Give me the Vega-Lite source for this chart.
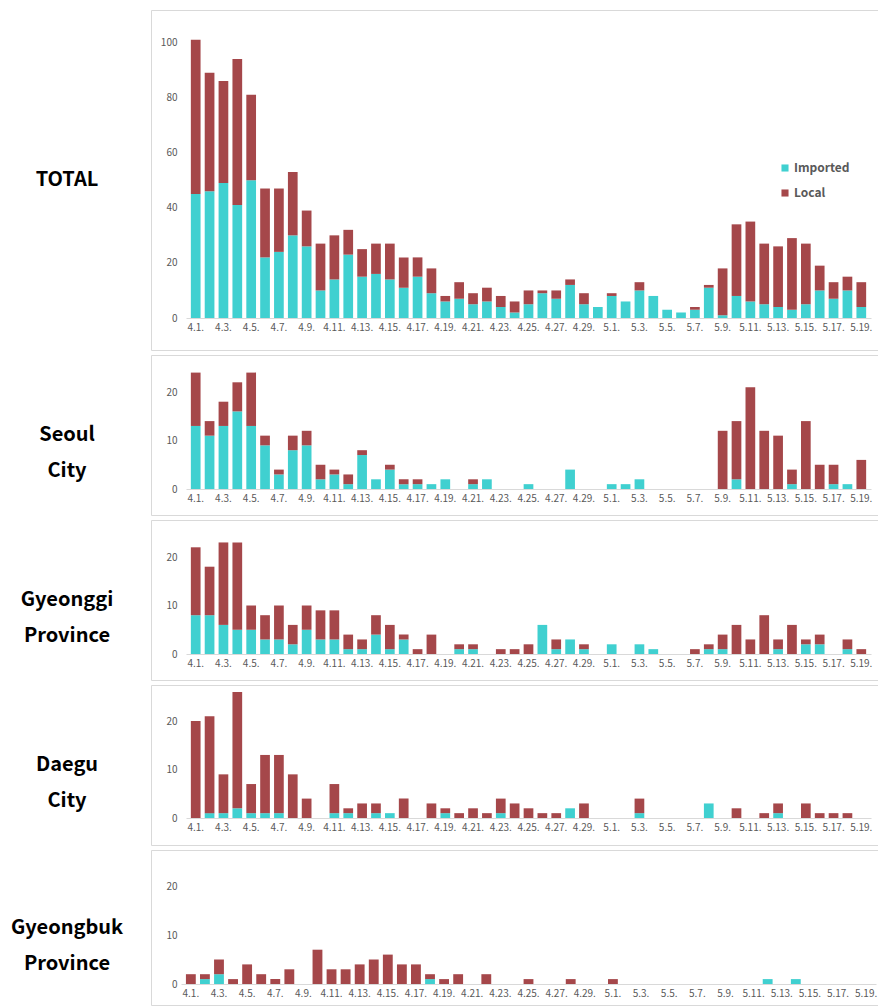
{
  "$schema": "https://vega.github.io/schema/vega-lite/v6.json",
  "description": "Daily new COVID-19 cases, imported vs local, 4.1.-5.19., total and four regions.",
  "padding": {"left": 0, "top": 9, "right": 0, "bottom": 0},
  "spacing": 3,
  "datasets": {
    "total": [
      {"d": "4.1.", "Imported": 45, "Local": 56}, {"d": "4.2.", "Imported": 46, "Local": 43},
      {"d": "4.3.", "Imported": 49, "Local": 37}, {"d": "4.4.", "Imported": 41, "Local": 53},
      {"d": "4.5.", "Imported": 50, "Local": 31}, {"d": "4.6.", "Imported": 22, "Local": 25},
      {"d": "4.7.", "Imported": 24, "Local": 23}, {"d": "4.8.", "Imported": 30, "Local": 23},
      {"d": "4.9.", "Imported": 26, "Local": 13}, {"d": "4.10.", "Imported": 10, "Local": 17},
      {"d": "4.11.", "Imported": 14, "Local": 16}, {"d": "4.12.", "Imported": 23, "Local": 9},
      {"d": "4.13.", "Imported": 15, "Local": 10}, {"d": "4.14.", "Imported": 16, "Local": 11},
      {"d": "4.15.", "Imported": 14, "Local": 13}, {"d": "4.16.", "Imported": 11, "Local": 11},
      {"d": "4.17.", "Imported": 15, "Local": 7}, {"d": "4.18.", "Imported": 9, "Local": 9},
      {"d": "4.19.", "Imported": 6, "Local": 2}, {"d": "4.20.", "Imported": 7, "Local": 6},
      {"d": "4.21.", "Imported": 5, "Local": 4}, {"d": "4.22.", "Imported": 6, "Local": 5},
      {"d": "4.23.", "Imported": 4, "Local": 4}, {"d": "4.24.", "Imported": 2, "Local": 4},
      {"d": "4.25.", "Imported": 5, "Local": 5}, {"d": "4.26.", "Imported": 9, "Local": 1},
      {"d": "4.27.", "Imported": 7, "Local": 3}, {"d": "4.28.", "Imported": 12, "Local": 2},
      {"d": "4.29.", "Imported": 5, "Local": 4}, {"d": "4.30.", "Imported": 4, "Local": 0},
      {"d": "5.1.", "Imported": 8, "Local": 1}, {"d": "5.2.", "Imported": 6, "Local": 0},
      {"d": "5.3.", "Imported": 10, "Local": 3}, {"d": "5.4.", "Imported": 8, "Local": 0},
      {"d": "5.5.", "Imported": 3, "Local": 0}, {"d": "5.6.", "Imported": 2, "Local": 0},
      {"d": "5.7.", "Imported": 3, "Local": 1}, {"d": "5.8.", "Imported": 11, "Local": 1},
      {"d": "5.9.", "Imported": 1, "Local": 17}, {"d": "5.10.", "Imported": 8, "Local": 26},
      {"d": "5.11.", "Imported": 6, "Local": 29}, {"d": "5.12.", "Imported": 5, "Local": 22},
      {"d": "5.13.", "Imported": 4, "Local": 22}, {"d": "5.14.", "Imported": 3, "Local": 26},
      {"d": "5.15.", "Imported": 5, "Local": 22}, {"d": "5.16.", "Imported": 10, "Local": 9},
      {"d": "5.17.", "Imported": 7, "Local": 6}, {"d": "5.18.", "Imported": 10, "Local": 5},
      {"d": "5.19.", "Imported": 4, "Local": 9}
    ],
    "seoul": [
      {"d": "4.1.", "Imported": 13, "Local": 11}, {"d": "4.2.", "Imported": 11, "Local": 3},
      {"d": "4.3.", "Imported": 13, "Local": 5}, {"d": "4.4.", "Imported": 16, "Local": 6},
      {"d": "4.5.", "Imported": 13, "Local": 11}, {"d": "4.6.", "Imported": 9, "Local": 2},
      {"d": "4.7.", "Imported": 3, "Local": 1}, {"d": "4.8.", "Imported": 8, "Local": 3},
      {"d": "4.9.", "Imported": 9, "Local": 3}, {"d": "4.10.", "Imported": 2, "Local": 3},
      {"d": "4.11.", "Imported": 3, "Local": 1}, {"d": "4.12.", "Imported": 1, "Local": 2},
      {"d": "4.13.", "Imported": 7, "Local": 1}, {"d": "4.14.", "Imported": 2, "Local": 0},
      {"d": "4.15.", "Imported": 4, "Local": 1}, {"d": "4.16.", "Imported": 1, "Local": 1},
      {"d": "4.17.", "Imported": 1, "Local": 1}, {"d": "4.18.", "Imported": 1, "Local": 0},
      {"d": "4.19.", "Imported": 2, "Local": 0}, {"d": "4.20.", "Imported": 0, "Local": 0},
      {"d": "4.21.", "Imported": 1, "Local": 1}, {"d": "4.22.", "Imported": 2, "Local": 0},
      {"d": "4.23.", "Imported": 0, "Local": 0}, {"d": "4.24.", "Imported": 0, "Local": 0},
      {"d": "4.25.", "Imported": 1, "Local": 0}, {"d": "4.26.", "Imported": 0, "Local": 0},
      {"d": "4.27.", "Imported": 0, "Local": 0}, {"d": "4.28.", "Imported": 4, "Local": 0},
      {"d": "4.29.", "Imported": 0, "Local": 0}, {"d": "4.30.", "Imported": 0, "Local": 0},
      {"d": "5.1.", "Imported": 1, "Local": 0}, {"d": "5.2.", "Imported": 1, "Local": 0},
      {"d": "5.3.", "Imported": 2, "Local": 0}, {"d": "5.4.", "Imported": 0, "Local": 0},
      {"d": "5.5.", "Imported": 0, "Local": 0}, {"d": "5.6.", "Imported": 0, "Local": 0},
      {"d": "5.7.", "Imported": 0, "Local": 0}, {"d": "5.8.", "Imported": 0, "Local": 0},
      {"d": "5.9.", "Imported": 0, "Local": 12}, {"d": "5.10.", "Imported": 2, "Local": 12},
      {"d": "5.11.", "Imported": 0, "Local": 21}, {"d": "5.12.", "Imported": 0, "Local": 12},
      {"d": "5.13.", "Imported": 0, "Local": 11}, {"d": "5.14.", "Imported": 1, "Local": 3},
      {"d": "5.15.", "Imported": 0, "Local": 14}, {"d": "5.16.", "Imported": 0, "Local": 5},
      {"d": "5.17.", "Imported": 1, "Local": 4}, {"d": "5.18.", "Imported": 1, "Local": 0},
      {"d": "5.19.", "Imported": 0, "Local": 6}
    ],
    "gyeonggi": [
      {"d": "4.1.", "Imported": 8, "Local": 14}, {"d": "4.2.", "Imported": 8, "Local": 10},
      {"d": "4.3.", "Imported": 6, "Local": 17}, {"d": "4.4.", "Imported": 5, "Local": 18},
      {"d": "4.5.", "Imported": 5, "Local": 5}, {"d": "4.6.", "Imported": 3, "Local": 5},
      {"d": "4.7.", "Imported": 3, "Local": 7}, {"d": "4.8.", "Imported": 2, "Local": 4},
      {"d": "4.9.", "Imported": 5, "Local": 5}, {"d": "4.10.", "Imported": 3, "Local": 6},
      {"d": "4.11.", "Imported": 3, "Local": 6}, {"d": "4.12.", "Imported": 1, "Local": 3},
      {"d": "4.13.", "Imported": 1, "Local": 2}, {"d": "4.14.", "Imported": 4, "Local": 4},
      {"d": "4.15.", "Imported": 1, "Local": 5}, {"d": "4.16.", "Imported": 3, "Local": 1},
      {"d": "4.17.", "Imported": 0, "Local": 1}, {"d": "4.18.", "Imported": 0, "Local": 4},
      {"d": "4.19.", "Imported": 0, "Local": 0}, {"d": "4.20.", "Imported": 1, "Local": 1},
      {"d": "4.21.", "Imported": 1, "Local": 1}, {"d": "4.22.", "Imported": 0, "Local": 0},
      {"d": "4.23.", "Imported": 0, "Local": 1}, {"d": "4.24.", "Imported": 0, "Local": 1},
      {"d": "4.25.", "Imported": 0, "Local": 2}, {"d": "4.26.", "Imported": 6, "Local": 0},
      {"d": "4.27.", "Imported": 1, "Local": 2}, {"d": "4.28.", "Imported": 3, "Local": 0},
      {"d": "4.29.", "Imported": 1, "Local": 1}, {"d": "4.30.", "Imported": 0, "Local": 0},
      {"d": "5.1.", "Imported": 2, "Local": 0}, {"d": "5.2.", "Imported": 0, "Local": 0},
      {"d": "5.3.", "Imported": 2, "Local": 0}, {"d": "5.4.", "Imported": 1, "Local": 0},
      {"d": "5.5.", "Imported": 0, "Local": 0}, {"d": "5.6.", "Imported": 0, "Local": 0},
      {"d": "5.7.", "Imported": 0, "Local": 1}, {"d": "5.8.", "Imported": 1, "Local": 1},
      {"d": "5.9.", "Imported": 1, "Local": 3}, {"d": "5.10.", "Imported": 0, "Local": 6},
      {"d": "5.11.", "Imported": 0, "Local": 3}, {"d": "5.12.", "Imported": 0, "Local": 8},
      {"d": "5.13.", "Imported": 1, "Local": 2}, {"d": "5.14.", "Imported": 0, "Local": 6},
      {"d": "5.15.", "Imported": 2, "Local": 1}, {"d": "5.16.", "Imported": 2, "Local": 2},
      {"d": "5.17.", "Imported": 0, "Local": 0}, {"d": "5.18.", "Imported": 1, "Local": 2},
      {"d": "5.19.", "Imported": 0, "Local": 1}
    ],
    "daegu": [
      {"d": "4.1.", "Imported": 0, "Local": 20}, {"d": "4.2.", "Imported": 1, "Local": 20},
      {"d": "4.3.", "Imported": 1, "Local": 8}, {"d": "4.4.", "Imported": 2, "Local": 24},
      {"d": "4.5.", "Imported": 1, "Local": 6}, {"d": "4.6.", "Imported": 1, "Local": 12},
      {"d": "4.7.", "Imported": 1, "Local": 12}, {"d": "4.8.", "Imported": 0, "Local": 9},
      {"d": "4.9.", "Imported": 0, "Local": 4}, {"d": "4.10.", "Imported": 0, "Local": 0},
      {"d": "4.11.", "Imported": 1, "Local": 6}, {"d": "4.12.", "Imported": 1, "Local": 1},
      {"d": "4.13.", "Imported": 0, "Local": 3}, {"d": "4.14.", "Imported": 1, "Local": 2},
      {"d": "4.15.", "Imported": 1, "Local": 0}, {"d": "4.16.", "Imported": 0, "Local": 4},
      {"d": "4.17.", "Imported": 0, "Local": 0}, {"d": "4.18.", "Imported": 0, "Local": 3},
      {"d": "4.19.", "Imported": 1, "Local": 1}, {"d": "4.20.", "Imported": 0, "Local": 1},
      {"d": "4.21.", "Imported": 0, "Local": 2}, {"d": "4.22.", "Imported": 0, "Local": 1},
      {"d": "4.23.", "Imported": 1, "Local": 3}, {"d": "4.24.", "Imported": 0, "Local": 3},
      {"d": "4.25.", "Imported": 0, "Local": 2}, {"d": "4.26.", "Imported": 0, "Local": 1},
      {"d": "4.27.", "Imported": 0, "Local": 1}, {"d": "4.28.", "Imported": 2, "Local": 0},
      {"d": "4.29.", "Imported": 0, "Local": 3}, {"d": "4.30.", "Imported": 0, "Local": 0},
      {"d": "5.1.", "Imported": 0, "Local": 0}, {"d": "5.2.", "Imported": 0, "Local": 0},
      {"d": "5.3.", "Imported": 1, "Local": 3}, {"d": "5.4.", "Imported": 0, "Local": 0},
      {"d": "5.5.", "Imported": 0, "Local": 0}, {"d": "5.6.", "Imported": 0, "Local": 0},
      {"d": "5.7.", "Imported": 0, "Local": 0}, {"d": "5.8.", "Imported": 3, "Local": 0},
      {"d": "5.9.", "Imported": 0, "Local": 0}, {"d": "5.10.", "Imported": 0, "Local": 2},
      {"d": "5.11.", "Imported": 0, "Local": 0}, {"d": "5.12.", "Imported": 0, "Local": 1},
      {"d": "5.13.", "Imported": 1, "Local": 2}, {"d": "5.14.", "Imported": 0, "Local": 0},
      {"d": "5.15.", "Imported": 0, "Local": 3}, {"d": "5.16.", "Imported": 0, "Local": 1},
      {"d": "5.17.", "Imported": 0, "Local": 1}, {"d": "5.18.", "Imported": 0, "Local": 1},
      {"d": "5.19.", "Imported": 0, "Local": 0}
    ],
    "gyeongbuk": [
      {"d": "4.1.", "Imported": 0, "Local": 2}, {"d": "4.2.", "Imported": 1, "Local": 1},
      {"d": "4.3.", "Imported": 2, "Local": 3}, {"d": "4.4.", "Imported": 0, "Local": 1},
      {"d": "4.5.", "Imported": 0, "Local": 4}, {"d": "4.6.", "Imported": 0, "Local": 2},
      {"d": "4.7.", "Imported": 0, "Local": 1}, {"d": "4.8.", "Imported": 0, "Local": 3},
      {"d": "4.9.", "Imported": 0, "Local": 0}, {"d": "4.10.", "Imported": 0, "Local": 7},
      {"d": "4.11.", "Imported": 0, "Local": 3}, {"d": "4.12.", "Imported": 0, "Local": 3},
      {"d": "4.13.", "Imported": 0, "Local": 4}, {"d": "4.14.", "Imported": 0, "Local": 5},
      {"d": "4.15.", "Imported": 0, "Local": 6}, {"d": "4.16.", "Imported": 0, "Local": 4},
      {"d": "4.17.", "Imported": 0, "Local": 4}, {"d": "4.18.", "Imported": 1, "Local": 1},
      {"d": "4.19.", "Imported": 0, "Local": 1}, {"d": "4.20.", "Imported": 0, "Local": 2},
      {"d": "4.21.", "Imported": 0, "Local": 0}, {"d": "4.22.", "Imported": 0, "Local": 2},
      {"d": "4.23.", "Imported": 0, "Local": 0}, {"d": "4.24.", "Imported": 0, "Local": 0},
      {"d": "4.25.", "Imported": 0, "Local": 1}, {"d": "4.26.", "Imported": 0, "Local": 0},
      {"d": "4.27.", "Imported": 0, "Local": 0}, {"d": "4.28.", "Imported": 0, "Local": 1},
      {"d": "4.29.", "Imported": 0, "Local": 0}, {"d": "4.30.", "Imported": 0, "Local": 0},
      {"d": "5.1.", "Imported": 0, "Local": 1}, {"d": "5.2.", "Imported": 0, "Local": 0},
      {"d": "5.3.", "Imported": 0, "Local": 0}, {"d": "5.4.", "Imported": 0, "Local": 0},
      {"d": "5.5.", "Imported": 0, "Local": 0}, {"d": "5.6.", "Imported": 0, "Local": 0},
      {"d": "5.7.", "Imported": 0, "Local": 0}, {"d": "5.8.", "Imported": 0, "Local": 0},
      {"d": "5.9.", "Imported": 0, "Local": 0}, {"d": "5.10.", "Imported": 0, "Local": 0},
      {"d": "5.11.", "Imported": 0, "Local": 0}, {"d": "5.12.", "Imported": 1, "Local": 0},
      {"d": "5.13.", "Imported": 0, "Local": 0}, {"d": "5.14.", "Imported": 1, "Local": 0},
      {"d": "5.15.", "Imported": 0, "Local": 0}, {"d": "5.16.", "Imported": 0, "Local": 0},
      {"d": "5.17.", "Imported": 0, "Local": 0}, {"d": "5.18.", "Imported": 0, "Local": 0},
      {"d": "5.19.", "Imported": 0, "Local": 0}
    ]
  },
  "config": {
    "view": {"stroke": "#D9D9D9", "strokeWidth": 1},
    "axis": {
      "labelFont": "Noto Sans CJK KR",
      "labelFontSize": 10,
      "labelColor": "#595959",
      "ticks": false,
      "grid": false
    },
    "axisX": {"domainColor": "#D9D9D9", "labelAngle": 0, "labelPadding": 4, "labelOverlap": false},
    "axisY": {"domain": false, "labelPadding": 9},
    "text": {"font": "Noto Sans CJK KR", "fontSize": 20, "fontWeight": "bold", "color": "#000000", "lineBreak": "\n", "lineHeight": 36},
    "bar": {"stroke": null}
  },
  "vconcat": [
    {
      "spacing": 16,
      "hconcat": [
        {
          "width": 134, "height": 340, "view": {"stroke": null},
          "data": {"values": [{"t": "TOTAL"}]},
          "mark": "text",
          "encoding": {"text": {"field": "t"}}
        },
        {
          "width": 728, "height": 340,
          "data": {"name": "total"},
          "transform": [{"fold": ["Imported", "Local"], "as": ["type", "n"]}],
          "mark": "bar",
          "encoding": {
            "x": {
              "field": "d", "type": "ordinal", "sort": null, "title": null,
              "scale": {"range": [35, 720], "paddingInner": 0.3, "paddingOuter": 0.35},
              "axis": {"offset": -32, "values": ["4.1.", "4.3.", "4.5.", "4.7.", "4.9.", "4.11.", "4.13.", "4.15.", "4.17.", "4.19.", "4.21.", "4.23.", "4.25.", "4.27.", "4.29.", "5.1.", "5.3.", "5.5.", "5.7.", "5.9.", "5.11.", "5.13.", "5.15.", "5.17.", "5.19."]}
            },
            "y": {
              "field": "n", "type": "quantitative", "stack": "zero", "title": null,
              "scale": {"domain": [0, 100], "range": [308, 32.5], "nice": false},
              "axis": {"offset": -35, "values": [0, 20, 40, 60, 80, 100]}
            },
            "color": {
              "field": "type", "type": "nominal", "title": null,
              "scale": {"domain": ["Imported", "Local"], "range": ["#40D0D0", "#A5474A"]},
              "legend": {
                "orient": "none", "legendX": 779, "legendY": 152, "direction": "vertical",
                "symbolType": "square", "symbolSize": 50, "symbolStrokeWidth": 0,
                "labelFont": "Noto Sans CJK KR", "labelFontSize": 12, "labelFontWeight": "bold",
                "labelColor": "#595959", "rowPadding": 13, "labelOffset": 3
              }
            },
            "order": {"field": "type", "sort": "ascending"}
          }
        }
      ]
    },
    {
      "spacing": 16,
      "hconcat": [
        {
          "width": 134, "height": 160, "view": {"stroke": null},
          "data": {"values": [{"t": "Seoul\nCity"}]},
          "mark": "text",
          "encoding": {"text": {"field": "t"}}
        },
        {
          "width": 728, "height": 160,
          "data": {"name": "seoul"},
          "transform": [{"fold": ["Imported", "Local"], "as": ["type", "n"]}],
          "mark": "bar",
          "encoding": {
            "x": {
              "field": "d", "type": "ordinal", "sort": null, "title": null,
              "scale": {"range": [35, 720], "paddingInner": 0.3, "paddingOuter": 0.35},
              "axis": {"offset": -26, "values": ["4.1.", "4.3.", "4.5.", "4.7.", "4.9.", "4.11.", "4.13.", "4.15.", "4.17.", "4.19.", "4.21.", "4.23.", "4.25.", "4.27.", "4.29.", "5.1.", "5.3.", "5.5.", "5.7.", "5.9.", "5.11.", "5.13.", "5.15.", "5.17.", "5.19."]}
            },
            "y": {
              "field": "n", "type": "quantitative", "stack": "zero", "title": null,
              "scale": {"domain": [0, 20], "range": [134, 37], "nice": false},
              "axis": {"offset": -35, "values": [0, 10, 20]}
            },
            "color": {"field": "type", "type": "nominal", "legend": null},
            "order": {"field": "type", "sort": "ascending"}
          }
        }
      ]
    },
    {
      "spacing": 16,
      "hconcat": [
        {
          "width": 134, "height": 160, "view": {"stroke": null},
          "data": {"values": [{"t": "Gyeonggi\nProvince"}]},
          "mark": "text",
          "encoding": {"text": {"field": "t"}}
        },
        {
          "width": 728, "height": 160,
          "data": {"name": "gyeonggi"},
          "transform": [{"fold": ["Imported", "Local"], "as": ["type", "n"]}],
          "mark": "bar",
          "encoding": {
            "x": {
              "field": "d", "type": "ordinal", "sort": null, "title": null,
              "scale": {"range": [35, 720], "paddingInner": 0.3, "paddingOuter": 0.35},
              "axis": {"offset": -26, "values": ["4.1.", "4.3.", "4.5.", "4.7.", "4.9.", "4.11.", "4.13.", "4.15.", "4.17.", "4.19.", "4.21.", "4.23.", "4.25.", "4.27.", "4.29.", "5.1.", "5.3.", "5.5.", "5.7.", "5.9.", "5.11.", "5.13.", "5.15.", "5.17.", "5.19."]}
            },
            "y": {
              "field": "n", "type": "quantitative", "stack": "zero", "title": null,
              "scale": {"domain": [0, 20], "range": [134, 37], "nice": false},
              "axis": {"offset": -35, "values": [0, 10, 20]}
            },
            "color": {"field": "type", "type": "nominal", "legend": null},
            "order": {"field": "type", "sort": "ascending"}
          }
        }
      ]
    },
    {
      "spacing": 16,
      "hconcat": [
        {
          "width": 134, "height": 160, "view": {"stroke": null},
          "data": {"values": [{"t": "Daegu\nCity"}]},
          "mark": "text",
          "encoding": {"text": {"field": "t"}}
        },
        {
          "width": 728, "height": 160,
          "data": {"name": "daegu"},
          "transform": [{"fold": ["Imported", "Local"], "as": ["type", "n"]}],
          "mark": "bar",
          "encoding": {
            "x": {
              "field": "d", "type": "ordinal", "sort": null, "title": null,
              "scale": {"range": [35, 720], "paddingInner": 0.3, "paddingOuter": 0.35},
              "axis": {"offset": -27, "values": ["4.1.", "4.3.", "4.5.", "4.7.", "4.9.", "4.11.", "4.13.", "4.15.", "4.17.", "4.19.", "4.21.", "4.23.", "4.25.", "4.27.", "4.29.", "5.1.", "5.3.", "5.5.", "5.7.", "5.9.", "5.11.", "5.13.", "5.15.", "5.17.", "5.19."]}
            },
            "y": {
              "field": "n", "type": "quantitative", "stack": "zero", "title": null,
              "scale": {"domain": [0, 20], "range": [133, 36], "nice": false},
              "axis": {"offset": -35, "values": [0, 10, 20]}
            },
            "color": {"field": "type", "type": "nominal", "legend": null},
            "order": {"field": "type", "sort": "ascending"}
          }
        }
      ]
    },
    {
      "spacing": 16,
      "hconcat": [
        {
          "width": 134, "height": 155, "view": {"stroke": null},
          "data": {"values": [{"t": "Gyeongbuk\nProvince"}]},
          "mark": "text",
          "encoding": {"text": {"field": "t"}}
        },
        {
          "width": 728, "height": 155,
          "data": {"name": "gyeongbuk"},
          "transform": [{"fold": ["Imported", "Local"], "as": ["type", "n"]}],
          "mark": "bar",
          "encoding": {
            "x": {
              "field": "d", "type": "ordinal", "sort": null, "title": null,
              "scale": {"range": [30, 725], "paddingInner": 0.3, "paddingOuter": 0.35},
              "axis": {"offset": -21, "values": ["4.1.", "4.3.", "4.5.", "4.7.", "4.9.", "4.11.", "4.13.", "4.15.", "4.17.", "4.19.", "4.21.", "4.23.", "4.25.", "4.27.", "4.29.", "5.1.", "5.3.", "5.5.", "5.7.", "5.9.", "5.11.", "5.13.", "5.15.", "5.17.", "5.19."]}
            },
            "y": {
              "field": "n", "type": "quantitative", "stack": "zero", "title": null,
              "scale": {"domain": [0, 20], "range": [134, 36], "nice": false},
              "axis": {"offset": -35, "values": [0, 10, 20]}
            },
            "color": {"field": "type", "type": "nominal", "legend": null},
            "order": {"field": "type", "sort": "ascending"}
          }
        }
      ]
    }
  ]
}
